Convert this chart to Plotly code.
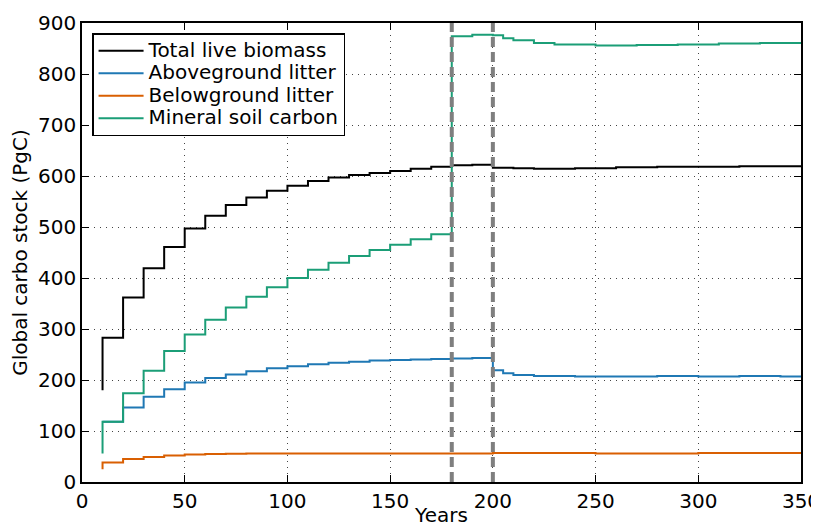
"""GLOBAL CARBON STOCK STEP CHART"""
import plotly.graph_objects as go

# step points (year, value); first pair at year 10 draws the initial jump
years_live = [10, 10, 20, 30, 40, 50, 60, 70, 80, 90, 100, 110, 120, 130, 140, 150, 160, 170,
              180, 190, 200, 210, 220, 240, 260, 280, 300, 320, 340, 350]
total_live = [180, 283, 362, 419, 461, 497, 522, 543, 558, 571, 581, 590, 597, 602, 606, 610, 614, 618,
              621, 622, 616, 615, 614, 615, 617, 618, 618, 619, 619, 618]

years_above = [10, 10, 20, 30, 40, 50, 60, 70, 80, 90, 100, 110, 120, 130, 140, 150, 160, 170,
               180, 190, 200, 205, 210, 220, 240, 260, 280, 300, 320, 340, 350]
above_litter = [118, 118, 146, 167, 182, 195, 204, 211, 217, 223, 227, 231, 234, 236, 238, 239, 240, 241,
                242, 243, 219, 213, 210, 208, 207, 207, 208, 207, 208, 207, 207]

years_below = [10, 10, 20, 30, 40, 50, 60, 70, 80, 100, 150, 200, 250, 300, 350]
below_litter = [25, 38, 45, 49, 52, 54, 55, 55.5, 56, 56, 56, 57, 56, 57, 56]

years_soil = [10, 10, 20, 30, 40, 50, 60, 70, 80, 90, 100, 110, 120, 130, 140, 150, 160, 170,
              180, 190, 200, 205, 210, 220, 230, 250, 270, 290, 310, 330, 350]
soil_carbon = [56, 118, 174, 218, 257, 289, 318, 342, 363, 382, 400, 416, 430, 443, 455, 465, 476, 486,
               874, 877, 876, 870, 866, 861, 858, 856, 857, 858, 860, 861, 861]

disturbance_years = [180, 200]

x_ticks = [0, 50, 100, 150, 200, 250, 300, 350]
y_ticks = [0, 100, 200, 300, 400, 500, 600, 700, 800, 900]

FONT = "DejaVu Sans"
FONT_SIZE = 20

series = [
    ("Total live biomass", years_live, total_live, "#000000"),
    ("Aboveground litter", years_above, above_litter, "#1f78b4"),
    ("Belowground litter", years_below, below_litter, "#d95f02"),
    ("Mineral soil carbon", years_soil, soil_carbon, "#1b9e77"),
]

# legend rows are spaced by the (smaller) legend font, text drawn at 20px
data = [
    go.Scatter(
        x=xs,
        y=ys,
        name=f"<span style='font-size:{FONT_SIZE}px'>{name}</span>",
        mode="lines",
        line=dict(color=color, width=2, shape="hv"),
    )
    for name, xs, ys, color in series
]

axis_common = dict(
    automargin=False,
    showline=True,
    linecolor="black",
    linewidth=1.5,
    mirror="allticks",
    ticks="inside",
    ticklen=7,
    tickcolor="black",
    showgrid=True,
    gridcolor="#444444",
    gridwidth=1,
    griddash="1px,5px",
    zeroline=False,
    ticklabeloverflow="allow",
    tickfont=dict(family=FONT, size=FONT_SIZE, color="black"),
)

# page body has an 8px margin, so the figure is sized/offset to land the axes
# at the same window pixels as the reference
layout = go.Layout(
    width=811,
    height=519,
    paper_bgcolor="white",
    plot_bgcolor="white",
    margin=dict(l=74, r=18, t=15, b=45),
    font=dict(family=FONT, size=FONT_SIZE, color="black"),
    xaxis=dict(
        range=[0, 350],
        tickvals=x_ticks,
        title=dict(text="Years", font=dict(family=FONT, size=FONT_SIZE), standoff=2),
        **axis_common,
    ),
    yaxis=dict(
        range=[0, 900],
        tickvals=y_ticks,
        title=dict(text="Global carbo stock (PgC)", font=dict(family=FONT, size=FONT_SIZE), standoff=6),
        **axis_common,
    ),
    showlegend=True,
    legend=dict(
        x=0.014,
        y=0.978,
        xanchor="left",
        yanchor="top",
        bgcolor="white",
        bordercolor="black",
        borderwidth=1.5,
        itemwidth=45,
        font=dict(family=FONT, size=15, color="black"),
        tracegroupgap=0,
    ),
)

fig = go.Figure(data, layout)

for yr in disturbance_years:
    fig.add_vline(
        x=yr,
        line=dict(color="#7f7f7f", width=4, dash="10px,5px"),
        layer="above",
    )

fig.write_html("out.html")
